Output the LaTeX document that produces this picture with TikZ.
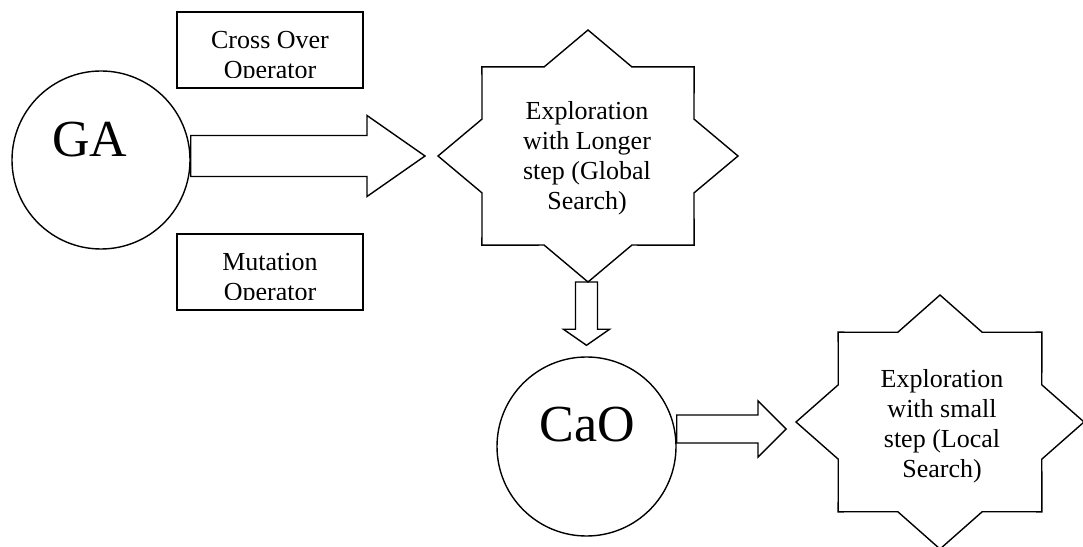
\documentclass[tikz,border=0pt]{standalone}
\usepackage{fontspec}
\setmainfont{Liberation Serif}
\usetikzlibrary{calc}
\tikzset{
  line/.style={draw=black, line width=1.4pt, line join=miter},
  opbox/.style={line, rectangle, minimum width=186pt, minimum height=76pt, inner sep=0pt},
  boxtext/.style={align=center, font=\fontsize{26}{30}\selectfont, inner sep=0pt},
  bigcircle/.style={line, circle, inner sep=0pt},
  bigtext/.style={font=\fontsize{52}{60}\selectfont, inner sep=0pt},
  startext/.style={align=center, font=\fontsize{26}{30}\selectfont, inner sep=0pt},
}
% eight-pointed star: center, outer rx, outer ry, inner rx, inner ry
\newcommand\eightstar[5]{%
  \draw[line] ($(#1)+(0:#2 and #3)$)
    \foreach \a in {0,45,...,315}{
      -- ($(#1)+({\a+22.5}:#4 and #5)$) -- ($(#1)+({\a+45}:#2 and #3)$)
    } -- cycle;}
% horizontal block arrow: start, tip, shaft half width, head half width, head length
\newcommand\hblockarrow[5]{%
  \draw[line] let \p1=(#1), \p2=(#2) in
    (\x1,\y2+#3pt) -- (\x2-#5pt,\y2+#3pt) -- (\x2-#5pt,\y2+#4pt) -- (\x2,\y2)
    -- (\x2-#5pt,\y2-#4pt) -- (\x2-#5pt,\y2-#3pt) -- (\x1,\y2-#3pt) -- cycle;}
% vertical block arrow (downwards): start, tip, shaft half width, head half width, head length
\newcommand\vblockarrow[5]{%
  \draw[line] let \p1=(#1), \p2=(#2) in
    (\x2-#3pt,\y1) -- (\x2-#3pt,\y2+#5pt) -- (\x2-#4pt,\y2+#5pt) -- (\x2,\y2)
    -- (\x2+#4pt,\y2+#5pt) -- (\x2+#3pt,\y2+#5pt) -- (\x2+#3pt,\y1) -- cycle;}
\begin{document}
\begin{tikzpicture}[x=1pt,y=1pt]
\fill[white] (0,0) rectangle (1083,546);
\useasboundingbox (0,0) rectangle (1083,546);

% GA
\node[bigcircle, minimum size=178pt] (GA) at (101,386) {};
\node[bigtext] (GAt) at (90,406) {GA};

% operator boxes
\node[opbox] (cross) at (270,496) {};
\begin{scope}
  \clip (177,468) rectangle (363,534);
  \node[boxtext] (crosst) at (270,488) {Cross Over\\Operator};
\end{scope}
\node[opbox] (mut) at (270,274) {};
\begin{scope}
  \clip (177,246) rectangle (363,312);
  \node[boxtext] (mutt) at (270,266) {Mutation\\Operator};
\end{scope}

% star 1
\coordinate (S1c) at (588,390);
\eightstar{S1c}{150}{126}{114.75}{96.39}
\node[startext] (S1) at (587,388) {Exploration\\with Longer\\step (Global\\Search)};

% CaO
\node[bigcircle, minimum size=179pt] (CaO) at (586.5,99.5) {};
\node[bigtext] (CaOt) at (587,121.5) {CaO};

% star 2
\coordinate (S2c) at (940,124);
\eightstar{S2c}{144}{127}{110.16}{97.16}
\node[startext] (S2) at (942,120) {Exploration\\with small\\step (Local\\Search)};

% block arrows
\coordinate (a1s) at (GA.east |- S1c);
\coordinate (a1t) at ($(S1c)+(-163,0)$);
\hblockarrow{a1s}{a1t}{20.5}{40.5}{58}

\coordinate (a2s) at ($(S1c)+(0,-126)$);
\coordinate (a2t) at ($(CaO.north)+(0,11)$);
\vblockarrow{a2s}{a2t}{11}{23}{16}

\coordinate (a3s) at ($(CaO.east)+(0,17.5)$);
\coordinate (a3t) at ($(S2c)+(-154,-7)$);
\hblockarrow{a3s}{a3t}{14}{28}{28}
\end{tikzpicture}
\end{document}
